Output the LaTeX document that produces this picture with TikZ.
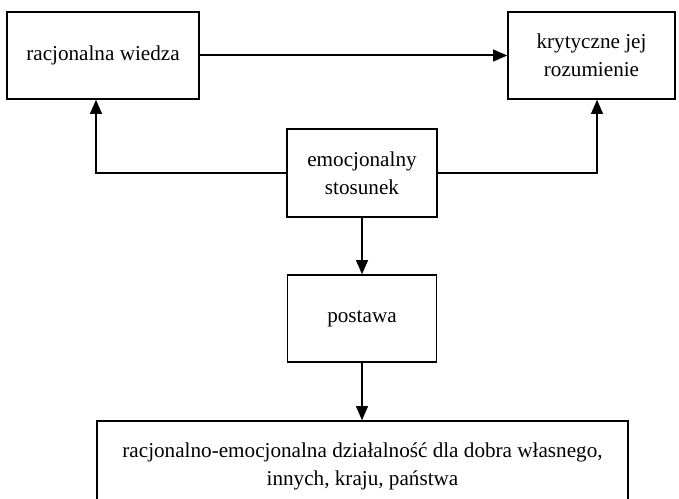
\documentclass[tikz,border=0pt]{standalone}
\usepackage{fontspec}
\setmainfont{Liberation Serif}
\usetikzlibrary{arrows.meta, positioning, calc}
\tikzset{
    box/.style={draw, line width=0.8pt, align=center, inner sep=0pt,
        font=\fontsize{12.7}{16.8}\selectfont},
    link/.style={-{Triangle[length=8.5pt, width=7pt]}, line width=1.2pt}
}

\begin{document}
\begin{tikzpicture}[x=0.6pt, y=-0.6pt]
    \useasboundingbox (0,0) rectangle (679,499);
    % Top row
    \node[box, minimum width=192*0.6pt, minimum height=87*0.6pt] (wiedza) at (103,55.5) {racjonalna wiedza};
    \node[box, minimum width=167*0.6pt, minimum height=87*0.6pt] (krytyka) at (591.5,55.5) {krytyczne jej\\rozumienie};
    % Middle column
    \node[box, minimum width=150*0.6pt, minimum height=88*0.6pt] (emocje) at (362,173) {emocjonalny\\stosunek};
    \node[box, minimum width=149*0.6pt, minimum height=87*0.6pt] (postawa) at (362,318.5) {postawa};
    % Bottom box (runs off the page)
    \node[box, minimum width=531*0.6pt, minimum height=90*0.6pt] (dzialanie) at (362.5,466) {racjonalno-emocjonalna działalność dla dobra własnego,\\innych, kraju, państwa};
    % Arrows
    \draw[link] (wiedza.east) -- (krytyka.west);
    \draw[link] (emocje.west) -| ([xshift=-4.2pt]wiedza.south);
    \draw[link] (emocje.east) -| ([xshift=3.3pt]krytyka.south);
    \draw[link] (emocje.south) -- (postawa.north);
    \draw[link] (postawa.south) -- (postawa.south |- dzialanie.north);
\end{tikzpicture}
\end{document}
